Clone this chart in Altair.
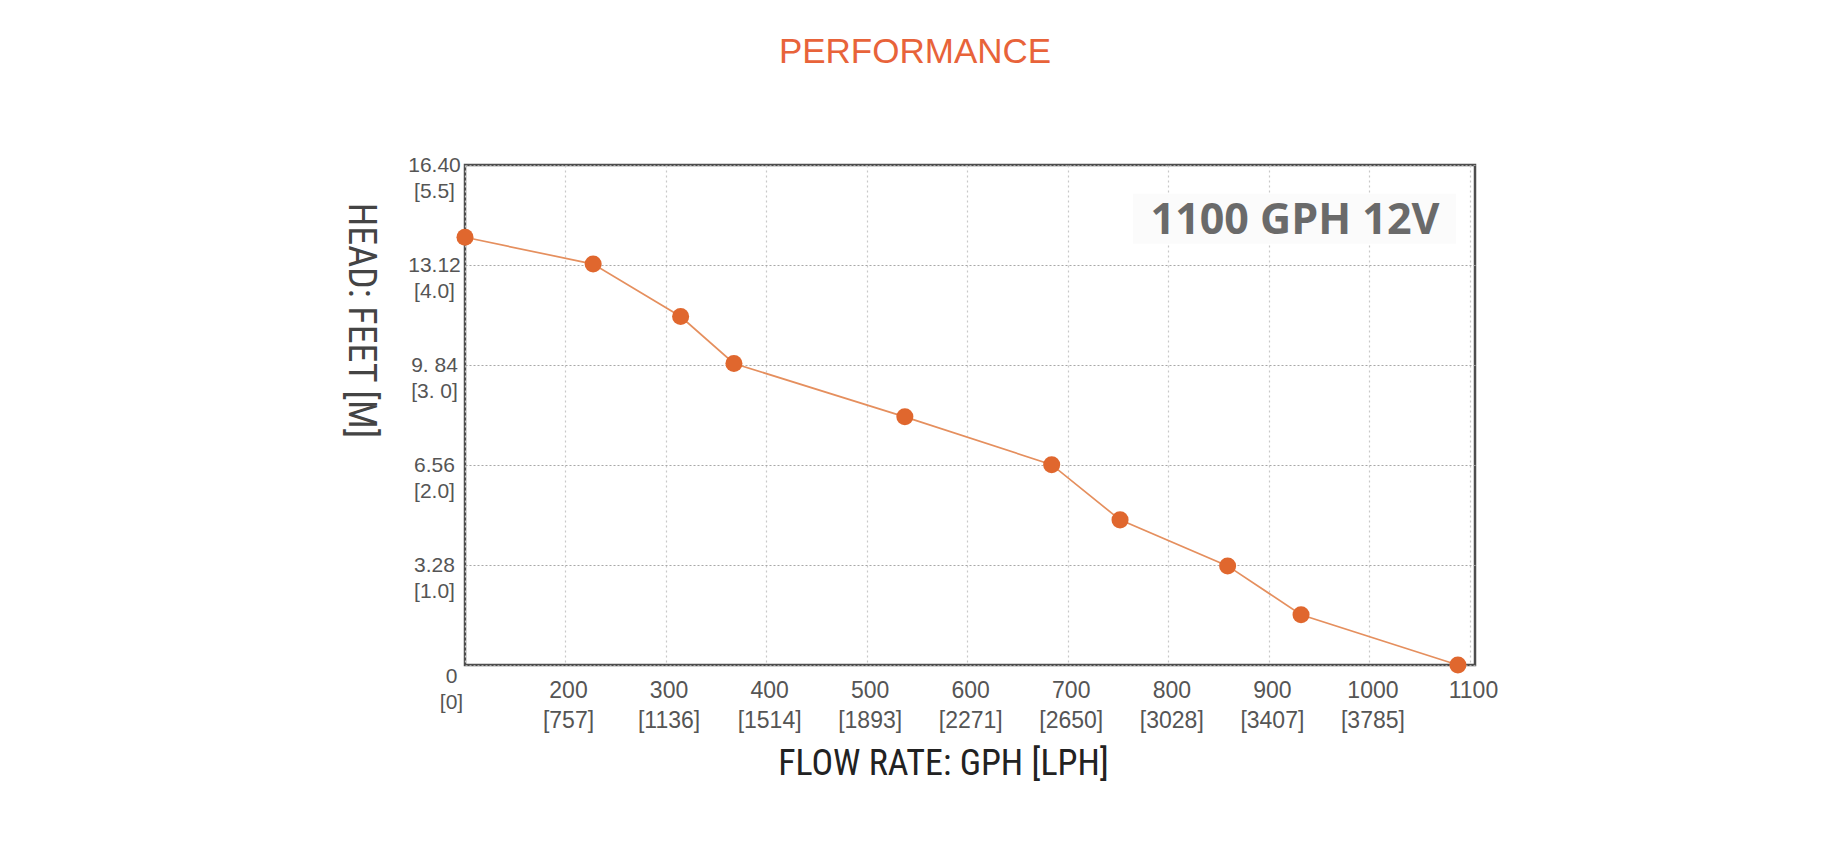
import altair as alt
import pandas as pd

# ---- data ----
flow_gph = [0, 228, 315, 368, 538, 684, 752, 859, 932, 1088]
head_ft = [14.03, 13.15, 11.43, 9.89, 8.14, 6.57, 4.76, 3.25, 1.65, 0.0]

x_ticks = [0, 200, 300, 400, 500, 600, 700, 800, 900, 1000, 1100]
x_lph = ["", "[757]", "[1136]", "[1514]", "[1893]", "[2271]", "[2650]", "[3028]", "[3407]", "[3785]", ""]

y_ticks = [0, 3.28, 6.56, 9.84, 13.12, 16.40]
y_top = ["0", "3.28", "6.56", "9. 84", "13.12", "16.40"]
y_bottom = ["[0]", "[1.0]", "[2.0]", "[3. 0]", "[4.0]", "[5.5]"]

label_text = ["1100 GPH 12V"]
label_x = [926]
label_y = [14.15]
box_x = [765]
box_x2 = [1086]
box_y = [13.82]
box_y2 = [15.46]

df = pd.DataFrame({"flow": flow_gph, "head": head_ft})
ann = pd.DataFrame({"t": label_text, "x": label_x, "y": label_y})
box = pd.DataFrame({"x": box_x, "x2": box_x2, "y": box_y, "y2": box_y2})


def ternary(values, labels_fn):
    expr = "''"
    for v, lab in reversed(list(zip(values, labels_fn))):
        expr = f"datum.value == {v} ? {lab} : ({expr})"
    return expr


x_label_parts = []
for v, l in zip(x_ticks, x_lph):
    if v == 0:
        x_label_parts.append("''")
    elif l == "":
        x_label_parts.append(f"'{v}'")
    else:
        x_label_parts.append(f"['{v}', '{l}']")
x_expr = ternary(x_ticks, x_label_parts)
y_expr = ternary(y_ticks, [f"['{a}', '{b}']" for a, b in zip(y_top, y_bottom)])

xscale = alt.Scale(domain=[0, 200, 1105], range=[0, 100, 1010], nice=False, zero=False)
yscale = alt.Scale(domain=[0, 16.4], nice=False, zero=False)

TICK_FONT = "Liberation Sans, Arial, sans-serif"
NARROW = "Liberation Sans Narrow, Arial Narrow, Roboto Condensed, DejaVu Sans Condensed, sans-serif"

x_axis = alt.Axis(
    values=x_ticks, labelExpr=x_expr, domain=False, ticks=False, tickSize=0,
    grid=True, gridColor="#c8c8c8", gridDash=[2, 3], gridWidth=1.2,
    labelFont=TICK_FONT, labelFontSize=23, labelColor="#555555", labelLineHeight=30,
    labelPadding=14, labelBaseline="top", labelOffset=3, labelOverlap=False,
    labelFlush=False, labelBound=False,
    title="FLOW RATE: GPH [LPH]", titleFont=NARROW, titleFontSize=36,
    titleFontWeight="normal", titleColor="#222222", titleX=478, titleY=109,
    titleAlign="center", titleBaseline="alphabetic", titleAnchor=None,
)

y_axis = alt.Axis(
    values=y_ticks, labelExpr=y_expr, domain=False, ticks=False, tickSize=0,
    grid=True, gridColor="#a8a8a8", gridDash=[2, 2], gridWidth=1.2,
    labelFont=TICK_FONT, labelFontSize=21, labelColor="#555555", labelLineHeight=26,
    labelAlign="center",
    labelBaseline=alt.condition("datum.value == 0", alt.value("top"), alt.value("middle")),
    labelPadding=alt.condition("datum.value == 0", alt.value(14), alt.value(31)),
    labelOverlap=False, labelFlush=False, labelBound=False,
    title="HEAD: FEET [M]", titleFont=NARROW, titleFontSize=38,
    titleFontWeight="normal", titleColor="#444444", titleAngle=90,
    titleX=-106, titleY=155, titleAlign="center", titleBaseline="middle",
)

base = alt.Chart(df)

rect = alt.Chart(box).mark_rect(color="#fbfbfb").encode(
    x=alt.X("x:Q", scale=xscale, axis=x_axis),
    x2="x2:Q",
    y=alt.Y("y:Q", scale=yscale, axis=y_axis),
    y2="y2:Q",
)

line = base.mark_line(color="#E58F5E", strokeWidth=1.7).encode(
    x=alt.X("flow:Q", scale=xscale),
    y=alt.Y("head:Q", scale=yscale),
)

points = base.mark_point(filled=True, size=290, color="#E0672E", opacity=1, clip=False).encode(
    x=alt.X("flow:Q", scale=xscale),
    y=alt.Y("head:Q", scale=yscale),
)

txt = alt.Chart(ann).mark_text(
    font="Open Sans", fontSize=43, fontWeight="bold", color="#6a6a6a",
    align="center", baseline="alphabetic",
).encode(
    x=alt.X("x:Q", scale=xscale),
    y=alt.Y("y:Q", scale=yscale),
    text="t:N",
)

chart = alt.layer(rect, line, points, txt).properties(
    width=1010,
    height=500,
    autosize=alt.AutoSizeParams(type="none"),
    padding={"left": 457, "top": 157, "right": 330, "bottom": 150},
    title=alt.TitleParams(
        "PERFORMANCE", font="Liberation Sans, Arial, sans-serif", fontSize=35,
        fontWeight="normal", color="#E8633A", anchor="middle", dx=-55,
        offset=56, baseline="alphabetic",
    ),
).configure(
    background="white",
    view=alt.ViewConfig(stroke="#4d4d4d", strokeWidth=2.5),
)

chart.save("out.html", embed_options={"renderer": "svg", "actions": False})
